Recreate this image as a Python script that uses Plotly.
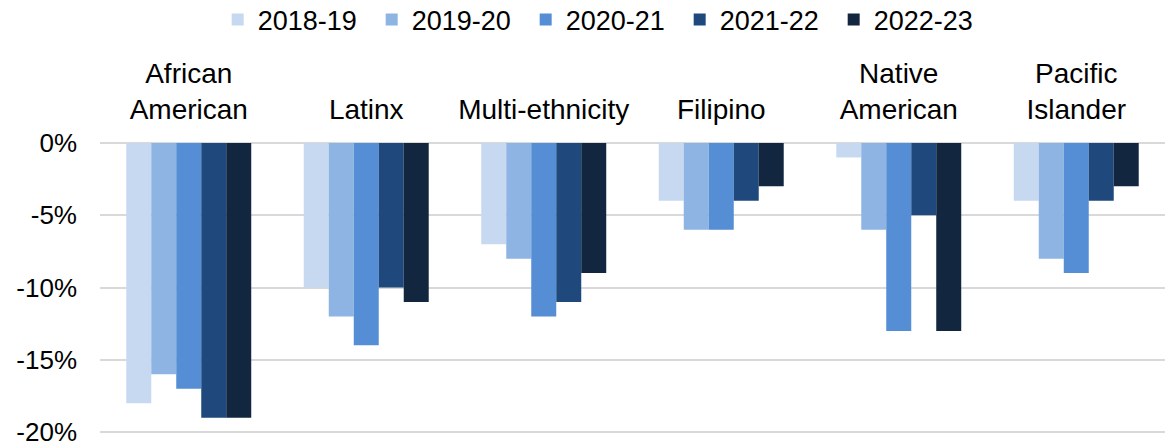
import plotly.graph_objects as go

groups = ["African<br>American", "Latinx", "Multi-ethnicity", "Filipino",
          "Native<br>American", "Pacific<br>Islander"]
years = ["2018-19", "2019-20", "2020-21", "2021-22", "2022-23"]

v_2018_19 = [-18, -10, -7, -4, -1, -4]
v_2019_20 = [-16, -12, -8, -6, -6, -8]
v_2020_21 = [-17, -14, -12, -6, -13, -9]
v_2021_22 = [-19, -10, -11, -4, -5, -4]
v_2022_23 = [-19, -11, -9, -3, -13, -3]

y_ticks = [0, -5, -10, -15, -20]
y_labels = ["0%", "-5%", "-10%", "-15%", "-20%"]

series = [v_2018_19, v_2019_20, v_2020_21, v_2021_22, v_2022_23]
colors = ["#C6D9F0", "#8EB4E3", "#558ED5", "#1F497D", "#12263F"]

fig = go.Figure()
for year, vals, col in zip(years, series, colors):
    fig.add_trace(go.Bar(x=groups, y=vals, name=year, marker_color=col,
                         marker_line_width=0))

FONT = "Liberation Sans, Arial, sans-serif"
fig.update_layout(
    width=1167, height=444,
    margin=dict(l=100, r=2, t=143, b=8, autoexpand=False),
    plot_bgcolor="white", paper_bgcolor="white",
    barmode="group", bargap=0.296, bargroupgap=0,
    font=dict(family=FONT, size=27, color="#000000"),
    legend=dict(orientation="h", x=0.472, xanchor="center",
                y=1 + 123 / 293, yanchor="middle",
                font=dict(size=27), itemwidth=30, tracegroupgap=0,
                entrywidth=109, entrywidthmode="pixels"),
    xaxis=dict(side="top", showgrid=False, showline=False, ticks="",
               automargin=False, ticklabelstandoff=17,
               tickfont=dict(size=28)),
    yaxis=dict(range=[-20.27, 0], tickvals=y_ticks, ticktext=y_labels,
               showgrid=True, gridcolor="#D9D9D9", gridwidth=1.5,
               zeroline=True, zerolinecolor="#D9D9D9", zerolinewidth=1.5,
               automargin=False, ticks="", ticklabelstandoff=22,
               ticklabeloverflow="allow", tickfont=dict(size=26)),
)

fig.write_html("out.html", config={"displayModeBar": False},
               post_script="document.body.style.margin='0';")
